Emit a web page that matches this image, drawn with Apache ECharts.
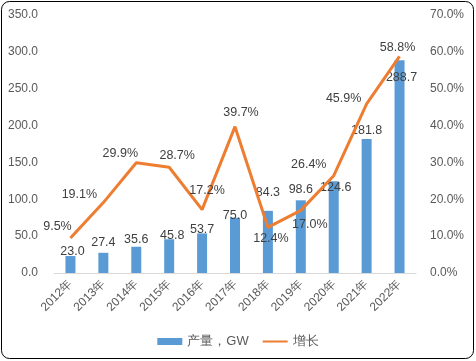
<!DOCTYPE html>
<html><head><meta charset="utf-8">
<script src="https://cdn.jsdelivr.net/npm/echarts@6/dist/echarts.min.js"></script>
<style>html,body{margin:0;padding:0;background:#fff}#c{width:476px;height:361px}</style>
</head><body><div id="c"></div>
<script>
var categories = ['2012年','2013年','2014年','2015年','2016年','2017年','2018年','2019年','2020年','2021年','2022年'];
var output = [23.0, 27.4, 35.6, 45.8, 53.7, 75.0, 84.3, 98.6, 124.6, 181.8, 288.7];
var growth = [9.5, 19.1, 29.9, 28.7, 17.2, 39.7, 12.4, 17.0, 26.4, 45.9, 58.8];
var leftTicks = {min: 0, max: 350, interval: 50};
var rightTicks = {min: 0, max: 70, interval: 10};
// label layout (styling only)
var lineLabelOffsets = [[-13,-11],[-24,-8],[-16,-9],[8,-12],[5,-19],[6,-14],[3,11],[9,14],[-25,-11],[-23,-5],[-2,-9]];
var barLabelOffsets = [[2,2.5],[0,-3.5],[0,-0.5],[3,2.5],[0,2.5],[0,4.5],[0,-11.5],[0,-4.5],[2,12.5],[0,-1.5],[2,23.5]];

var FONT = '"Liberation Sans", Arial, sans-serif';
var chart = echarts.init(document.getElementById('c'));
chart.setOption({
  animation: false,
  textStyle: {fontFamily: FONT},
  graphic: [{type:'rect', shape:{x:1.5,y:1.5,width:472,height:357,r:8}, style:{fill:'none',stroke:'#000',lineWidth:1}, z:-1}],
  grid: {left: 54, right: 60, top: 15, bottom: 88},
  legend: {
    bottom: 8, left: 'center', itemWidth: 25, itemHeight: 7, itemGap: 13,
    textStyle: {color:'#595959', fontSize: 13, fontFamily: FONT},
    data: [{name:'产量，GW', icon:'rect'}, {name:'增长', itemStyle:{opacity:0}}]
  },
  xAxis: {
    type: 'category', data: categories,
    axisLine: {lineStyle:{color:'#D9D9D9', width:1}},
    axisTick: {show:false},
    axisLabel: {rotate: 45, color:'#595959', fontSize: 12, margin: 9, interval: 0}
  },
  yAxis: [
    {type:'value', min:leftTicks.min, max:leftTicks.max, interval:leftTicks.interval,
     splitLine:{show:false}, axisLine:{show:false}, axisTick:{show:false},
     axisLabel:{color:'#595959', fontSize:12, margin:16, formatter:function(v){return v.toFixed(1);}}},
    {type:'value', min:rightTicks.min, max:rightTicks.max, interval:rightTicks.interval,
     splitLine:{show:false}, axisLine:{show:false}, axisTick:{show:false},
     axisLabel:{color:'#595959', fontSize:12, margin:14, formatter:function(v){return v.toFixed(1)+'%';}}}
  ],
  series: [
    {name:'产量，GW', type:'bar', barWidth: 10, yAxisIndex:0,
     itemStyle:{color:'#5B9BD5'},
     data: output.map(function(v,i){return {value:v, label:{offset:barLabelOffsets[i]}};}),
     label:{show:true, position:'top', distance:0, color:'#404040', fontSize:12.5,
            formatter:function(p){return p.value.toFixed(1);}}},
    {name:'增长', type:'line', yAxisIndex:1, symbol:'circle', symbolSize:0.1, showSymbol:true, showAllSymbol:true, z:3,
     lineStyle:{color:'#ED7D31', width:3}, itemStyle:{color:'#ED7D31'},
     data: growth.map(function(v,i){return {value:v, label:{offset:lineLabelOffsets[i]}};}),
     label:{show:true, position:'inside', color:'#404040', fontSize:12.5,
            formatter:function(p){return p.value.toFixed(1)+'%';}}}
  ]
});
</script></body></html>
